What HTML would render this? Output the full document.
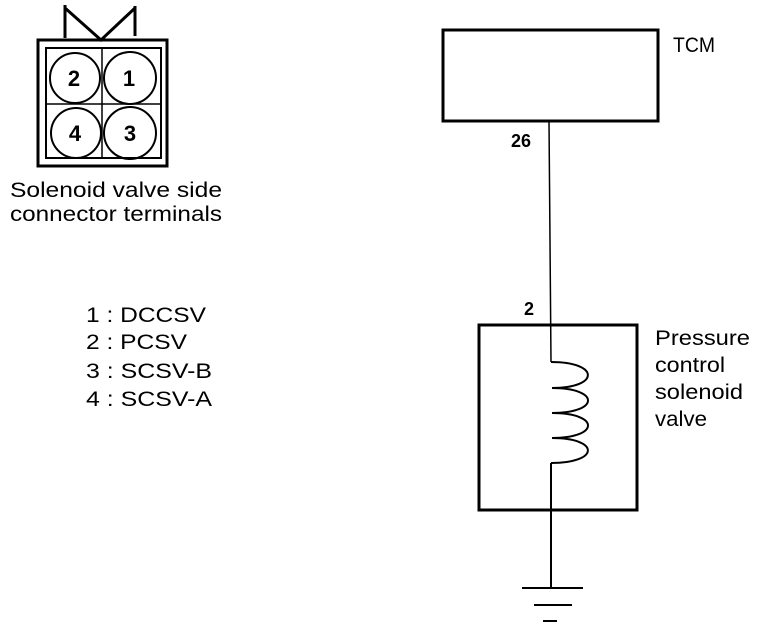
<!DOCTYPE html>
<html><head><style>
body{margin:0;background:#fff;width:768px;height:630px;overflow:hidden}
svg{position:absolute;left:0;top:0}
text{font-family:"Liberation Sans",sans-serif;fill:#000}
</style></head><body>
<svg width="768" height="630" viewBox="0 0 768 630">
<g fill="none" stroke="#000">
<polyline points="65,5 65,38" stroke-width="3"/>
<polyline points="65,8 101,40 135,8" stroke-width="3"/>
<line x1="135" y1="6" x2="135" y2="36" stroke-width="3"/>
<rect x="38" y="40" width="129" height="126" stroke-width="3"/>
<rect x="46" y="48" width="115" height="110" stroke-width="2"/>
<line x1="102" y1="48" x2="102" y2="158" stroke-width="1.5"/>
<line x1="46" y1="104" x2="161" y2="104" stroke-width="1.5"/>
<circle cx="75" cy="78" r="25" stroke-width="2"/>
<circle cx="130" cy="78" r="26" stroke-width="2"/>
<circle cx="76" cy="133" r="25" stroke-width="2"/>
<circle cx="130" cy="133" r="26" stroke-width="2"/>
<rect x="443" y="30" width="215" height="91" stroke-width="3"/>
<line x1="549" y1="121" x2="551" y2="362" stroke-width="1.5"/>
<rect x="479" y="325" width="158" height="185" stroke-width="3"/>
<path d="M551,362 C600,362 600,388 552,388 C600,388 600,413 552,413 C600,413 600,438 552,438 C600,438 600,463 551,463" stroke-width="2"/>
<line x1="551" y1="463" x2="551" y2="588" stroke-width="2"/>
<line x1="522" y1="588" x2="583" y2="588" stroke-width="2"/>
<line x1="534" y1="605" x2="572" y2="605" stroke-width="2"/>
<line x1="543" y1="621" x2="557" y2="621" stroke-width="2"/>
</g>
<g font-weight="bold" font-size="22" text-anchor="middle">
<text x="74" y="86">2</text><text x="129" y="86">1</text>
<text x="75" y="141">4</text><text x="130" y="141">3</text>
</g>
<g font-size="21" lengthAdjust="spacingAndGlyphs">
<text x="10" y="197" textLength="212" lengthAdjust="spacingAndGlyphs">Solenoid valve side</text>
<text x="10" y="221" textLength="212" lengthAdjust="spacingAndGlyphs">connector terminals</text>
<text x="86" y="322" textLength="120" lengthAdjust="spacingAndGlyphs">1 : DCCSV</text>
<text x="86" y="349" textLength="101" lengthAdjust="spacingAndGlyphs">2 : PCSV</text>
<text x="86" y="378" textLength="126" lengthAdjust="spacingAndGlyphs">3 : SCSV-B</text>
<text x="86" y="406" textLength="126" lengthAdjust="spacingAndGlyphs">4 : SCSV-A</text>
<text x="673" y="52" textLength="42" lengthAdjust="spacingAndGlyphs">TCM</text>
<text x="655" y="345" textLength="95" lengthAdjust="spacingAndGlyphs">Pressure</text>
<text x="655" y="372" textLength="70" lengthAdjust="spacingAndGlyphs">control</text>
<text x="655" y="399" textLength="88" lengthAdjust="spacingAndGlyphs">solenoid</text>
<text x="655" y="426" textLength="52" lengthAdjust="spacingAndGlyphs">valve</text>
</g>
<text x="511" y="147" font-size="18" font-weight="bold">26</text>
<text x="524" y="315" font-size="18" font-weight="bold">2</text>
</svg>
</body></html>
